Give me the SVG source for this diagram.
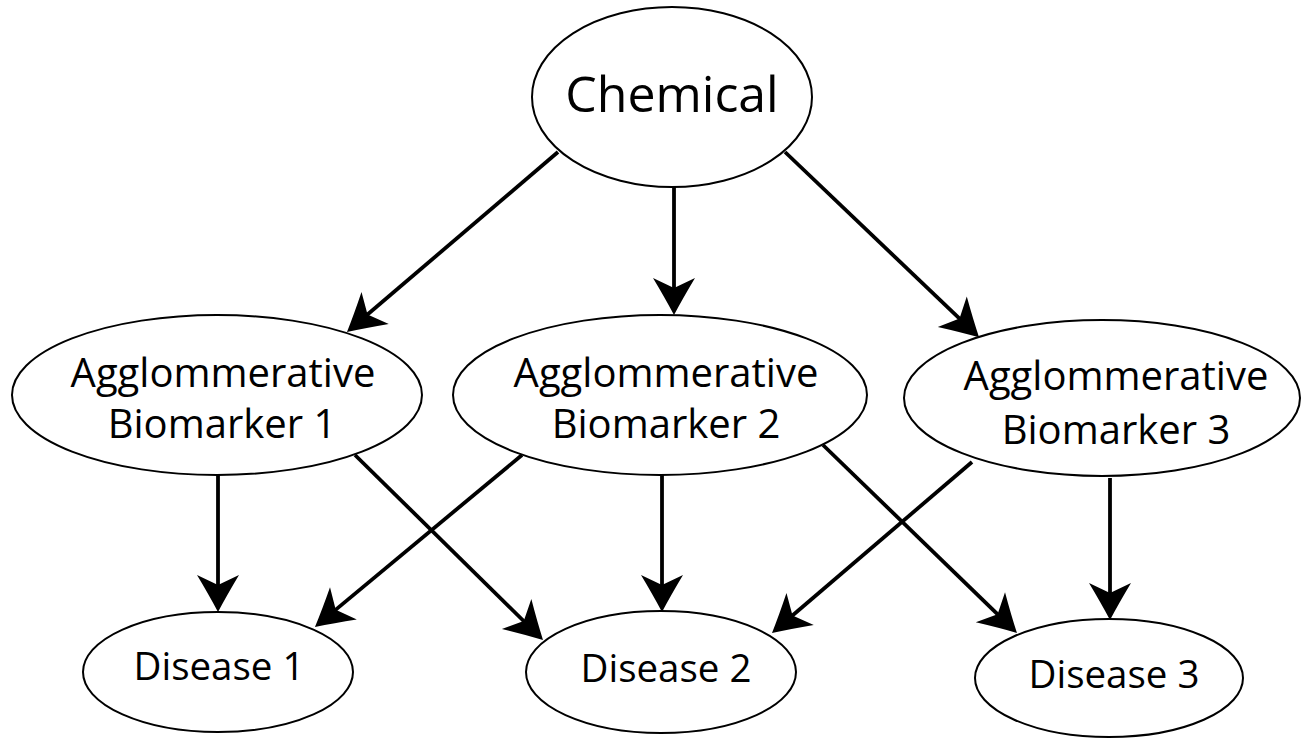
<svg xmlns="http://www.w3.org/2000/svg" width="1302" height="738" viewBox="0 0 1302 738">
  <style>
    .node ellipse { fill: #ffffff; stroke: #000000; stroke-width: 2; }
    .node text { font-family: "Open Sans", "Liberation Sans", sans-serif; fill: #000000; text-anchor: middle; }
    .big { font-size: 50px; }
    .mid { font-size: 40px; }
    .dis { font-size: 38.5px; }
    #edges line { stroke: #000000; stroke-width: 3.8; marker-end: url(#head); }
  </style>
  <defs>
    <!-- barbed arrowhead; the line stops 15px short of the tip -->
    <marker id="head" markerUnits="userSpaceOnUse" markerWidth="60" markerHeight="60" viewBox="-30 -30 60 60" refX="0" refY="0" orient="auto" overflow="visible">
      <path d="M15,0 Q-2,-9 -22,-21 L-12,0 L-22,21 Q-2,9 15,0 Z" fill="#000000"/>
    </marker>
  </defs>

  <rect width="1302" height="738" fill="#ffffff"/>

  <g id="edges">
    <line x1="558" y1="152" x2="358.4" y2="322.3"/>
    <line x1="674" y1="187" x2="674" y2="300"/>
    <line x1="785" y1="152" x2="968.2" y2="326.9"/>
    <line x1="218" y1="475" x2="218" y2="597"/>
    <line x1="355" y1="455" x2="532.3" y2="629.5"/>
    <line x1="522" y1="455" x2="326.5" y2="617.4"/>
    <line x1="662" y1="475" x2="662" y2="597"/>
    <line x1="823" y1="445" x2="1006.2" y2="622.6"/>
    <line x1="972" y1="462" x2="783.4" y2="623.3"/>
    <line x1="1110" y1="478" x2="1110" y2="605"/>
  </g>

  <g id="chemical" class="node">
    <ellipse cx="672" cy="97" rx="140" ry="90"/>
    <text class="big" x="672" y="112">Chemical</text>
  </g>

  <g id="biomarker1" class="node">
    <ellipse cx="217" cy="395" rx="205" ry="80"/>
    <text class="mid" x="223" y="387">Agglommerative</text>
    <text class="mid" x="222" y="438">Biomarker 1</text>
  </g>

  <g id="biomarker2" class="node">
    <ellipse cx="660" cy="395" rx="207" ry="80"/>
    <text class="mid" x="666" y="387">Agglommerative</text>
    <text class="mid" x="666" y="438">Biomarker 2</text>
  </g>

  <g id="biomarker3" class="node">
    <ellipse cx="1102" cy="398" rx="198" ry="78"/>
    <text class="mid" x="1116" y="390">Agglommerative</text>
    <text class="mid" x="1116" y="444">Biomarker 3</text>
  </g>

  <g id="disease1" class="node">
    <ellipse cx="218" cy="672" rx="135" ry="60"/>
    <text class="dis" x="219" y="680">Disease 1</text>
  </g>

  <g id="disease2" class="node">
    <ellipse cx="661" cy="672" rx="135" ry="61"/>
    <text class="dis" x="666" y="682">Disease 2</text>
  </g>

  <g id="disease3" class="node">
    <ellipse cx="1109" cy="678" rx="134" ry="59"/>
    <text class="dis" x="1114" y="688">Disease 3</text>
  </g>
</svg>
